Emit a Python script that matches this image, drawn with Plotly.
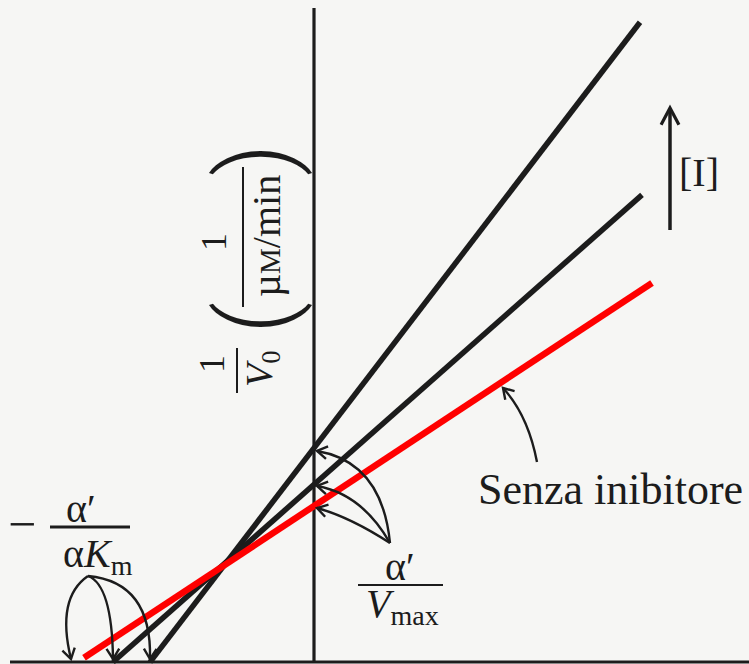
import math
import plotly.graph_objects as go

# Lineweaver–Burk plot for mixed inhibition: 1/V0 = slope * 1/[S] + intercept
series_names = ["Senza inibitore", "[I] intermedia", "[I] elevata"]
intercepts = [1.56, 1.775, 2.14]      # α'/Vmax on the 1/V0 axis
slopes = [0.66, 0.883, 1.306]         # αKm/Vmax
x_start = [-2.30, -2.01, -1.64]       # 1/[S] where each line begins
x_end = [3.38, 3.28, 3.26]            # 1/[S] where each line ends

line_colors = ["#ff0000", "#1c1c1c", "#1c1c1c"]
line_widths = [6.5, 5.5, 5.5]

W, H = 749, 664
PX_PER_UNIT = 100.0
ORIGIN_PX = (314, 662)
BG = "#f6f6f4"
INK = "#1c1c1c"
SERIF = "Liberation Serif"


def P(px, py):
    """Page position (pixels) -> data coordinates."""
    return (px - ORIGIN_PX[0]) / PX_PER_UNIT, (ORIGIN_PX[1] - py) / PX_PER_UNIT


x_range = [P(0, 0)[0], P(W, 0)[0]]
y_range = [P(0, H)[1], P(0, 0)[1]]

fig = go.Figure()

# inhibitor lines, drawn so the uninhibited (red) one sits on top
for i in reversed(range(len(series_names))):
    xs = [x_start[i], x_end[i]]
    ys = [slopes[i] * x + intercepts[i] for x in xs]
    fig.add_trace(go.Scatter(
        x=xs, y=ys, mode="lines", name=series_names[i],
        line=dict(color=line_colors[i], width=line_widths[i]),
        hoverinfo="skip", showlegend=False,
    ))

shapes = []

# axes
ax_top = P(0, 8)
ax_left = P(10, 0)
shapes.append(dict(type="line", xref="x", yref="y", x0=0, y0=0, x1=0, y1=ax_top[1],
                   line=dict(color=INK, width=3.2), layer="below"))
shapes.append(dict(type="line", xref="x", yref="y", x0=ax_left[0], y0=0, x1=x_range[1], y1=0,
                   line=dict(color=INK, width=3.2), layer="below"))


def seg(p0, p1, width=3):
    a, b = P(*p0), P(*p1)
    shapes.append(dict(type="line", xref="x", yref="y", x0=a[0], y0=a[1], x1=b[0], y1=b[1],
                       line=dict(color=INK, width=width)))


def arrowhead(tip, frm, length=12, half_angle=32, width=2.4):
    dx, dy = tip[0] - frm[0], tip[1] - frm[1]
    n = math.hypot(dx, dy)
    ux, uy = dx / n, dy / n
    pts = []
    for s in (1, -1):
        a = math.radians(half_angle) * s
        # rotate the backward direction by ±a
        rx = (-ux) * math.cos(a) - (-uy) * math.sin(a)
        ry = (-ux) * math.sin(a) + (-uy) * math.cos(a)
        pts.append((tip[0] + rx * length, tip[1] + ry * length))
    a, t, b = P(*pts[0]), P(*tip), P(*pts[1])
    shapes.append(dict(type="path", xref="x", yref="y",
                       path=f"M {a[0]},{a[1]} L {t[0]},{t[1]} L {b[0]},{b[1]}",
                       line=dict(color=INK, width=width)))


def curved_arrow(p0, ctrl, tip, width=2.4, head=12):
    a, c, t = P(*p0), P(*ctrl), P(*tip)
    shapes.append(dict(type="path", xref="x", yref="y",
                       path=f"M {a[0]},{a[1]} Q {c[0]},{c[1]} {t[0]},{t[1]}",
                       line=dict(color=INK, width=width)))
    arrowhead(tip, ctrl, length=head, width=width)


# arrows to the 1/[S] intercepts (-α'/αKm)
curved_arrow((88, 576), (56, 598), (71, 659))
curved_arrow((88, 576), (112, 585), (113, 659))
curved_arrow((88, 576), (152, 582), (150, 659))

# arrows to the 1/V0 intercepts (α'/Vmax)
curved_arrow((390, 543), (382, 462), (317, 451))
curved_arrow((390, 543), (362, 494), (317, 486))
curved_arrow((390, 543), (350, 517), (317, 508))

# pointer to the uninhibited line
curved_arrow((537, 462), (528, 415), (503, 388))

# increasing [I]
seg((670, 230), (670, 110), width=3.5)
arrowhead((670, 108), (670, 230), length=19, half_angle=28, width=3.2)

# fraction bars
seg((50, 527), (130, 527), width=3)          # α'/αKm
seg((358, 585), (443, 585), width=2.2)       # α'/Vmax
seg((237, 348), (237, 393), width=2)         # 1/V0
seg((243, 167), (243, 307), width=2)         # 1/(µM/min)

annotations = []


def label(px, py, text, size, angle=0, family=SERIF, weight=None):
    x, y = P(px, py)
    font = dict(family=family, size=size, color=INK)
    if weight is not None:
        font["weight"] = weight
    annotations.append(dict(x=x, y=y, xref="x", yref="y", text=text, showarrow=False,
                            textangle=angle, xanchor="center", yanchor="middle",
                            font=font))


label(610, 489, "Senza inibitore", 44)
label(699, 172, "[I]", 40)

label(22, 524, "−", 50)
label(81, 508, "α′", 40)
label(98, 556, "α<i>K</i><sub>m</sub>", 40)

label(400, 566, "α′", 40)
label(402, 606, "<i>V</i><sub>max</sub>", 40)

# rotated 1/V0 (1/(µM/min)) axis title
label(212, 364, "1", 36, -90)
label(262, 369, "<i>V</i><sub>0</sub>", 38, -90)
label(254, 318, "(", 100, -90, family="Roboto", weight=300)
label(214, 242, "1", 36, -90)
label(266, 236, "µ<span style='font-size:29px'>M</span>/min", 40, -90)
label(254, 160, ")", 100, -90, family="Roboto", weight=300)

fig.update_layout(
    width=W, height=H,
    margin=dict(l=0, r=0, t=0, b=0),
    paper_bgcolor=BG, plot_bgcolor=BG,
    xaxis=dict(range=x_range, visible=False, fixedrange=True),
    yaxis=dict(range=y_range, visible=False, fixedrange=True),
    shapes=shapes, annotations=annotations,
    showlegend=False,
)

fig.write_html("out.html")
